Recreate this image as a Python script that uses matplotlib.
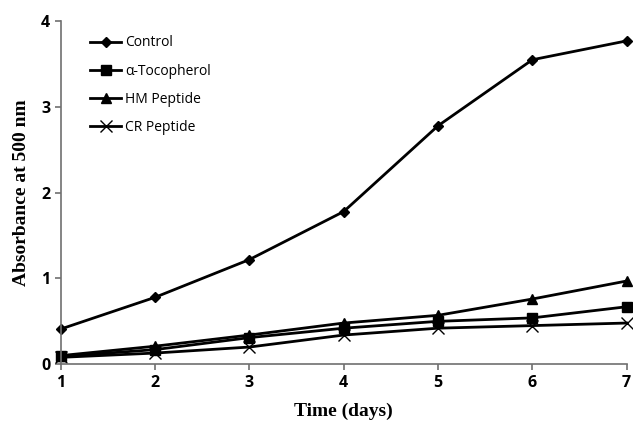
import matplotlib
matplotlib.use('Agg')
import matplotlib.pyplot as plt

days = [1, 2, 3, 4, 5, 6, 7]
control = [0.41, 0.78, 1.22, 1.78, 2.78, 3.55, 3.77]
tocopherol = [0.09, 0.17, 0.31, 0.42, 0.50, 0.54, 0.67]
hm_peptide = [0.10, 0.21, 0.34, 0.48, 0.57, 0.76, 0.97]
cr_peptide = [0.08, 0.13, 0.20, 0.34, 0.42, 0.45, 0.48]

fig = plt.figure(figsize=(6.33, 4.23), dpi=100)
ax = fig.add_axes([0.096, 0.139, 0.894, 0.811])

ax.plot(days, control, '-D', color='black', lw=2, ms=5.5, label='Control', clip_on=False)
ax.plot(days, tocopherol, '-s', color='black', lw=2, ms=7, label='\u03b1-Tocopherol', clip_on=False)
ax.plot(days, hm_peptide, '-^', color='black', lw=2, ms=7, label='HM Peptide', clip_on=False)
ax.plot(days, cr_peptide, '-x', color='black', lw=2, ms=8, mew=1, label='CR Peptide', clip_on=False)

ax.set_xlim(1, 7)
ax.set_ylim(0, 4)
ax.set_xticks(days)
ax.set_yticks([0, 1, 2, 3, 4])

for s in ['top', 'right']:
    ax.spines[s].set_visible(False)
for s in ['left', 'bottom']:
    ax.spines[s].set_color('#707070')
    ax.spines[s].set_linewidth(1.2)
ax.tick_params(direction='out', length=4, color='#707070', width=1.2)

for lbl in ax.get_xticklabels() + ax.get_yticklabels():
    lbl.set_fontfamily('Open Sans')
    lbl.set_fontweight('bold')
    lbl.set_fontsize(11.5)

ax.set_xlabel('Time (days)', family='Liberation Serif', fontweight='bold', fontsize=14, labelpad=9)
ax.set_ylabel('Absorbance at 500 nm', family='Liberation Serif', fontweight='bold', fontsize=14, labelpad=8)

ax.legend(loc='upper left', bbox_to_anchor=(0.03, 0.995), frameon=False,
          prop={'family': 'Open Sans', 'size': 10}, handlelength=2.2,
          labelspacing=0.95, handletextpad=0.3)

fig.savefig('out.png', dpi=100)
